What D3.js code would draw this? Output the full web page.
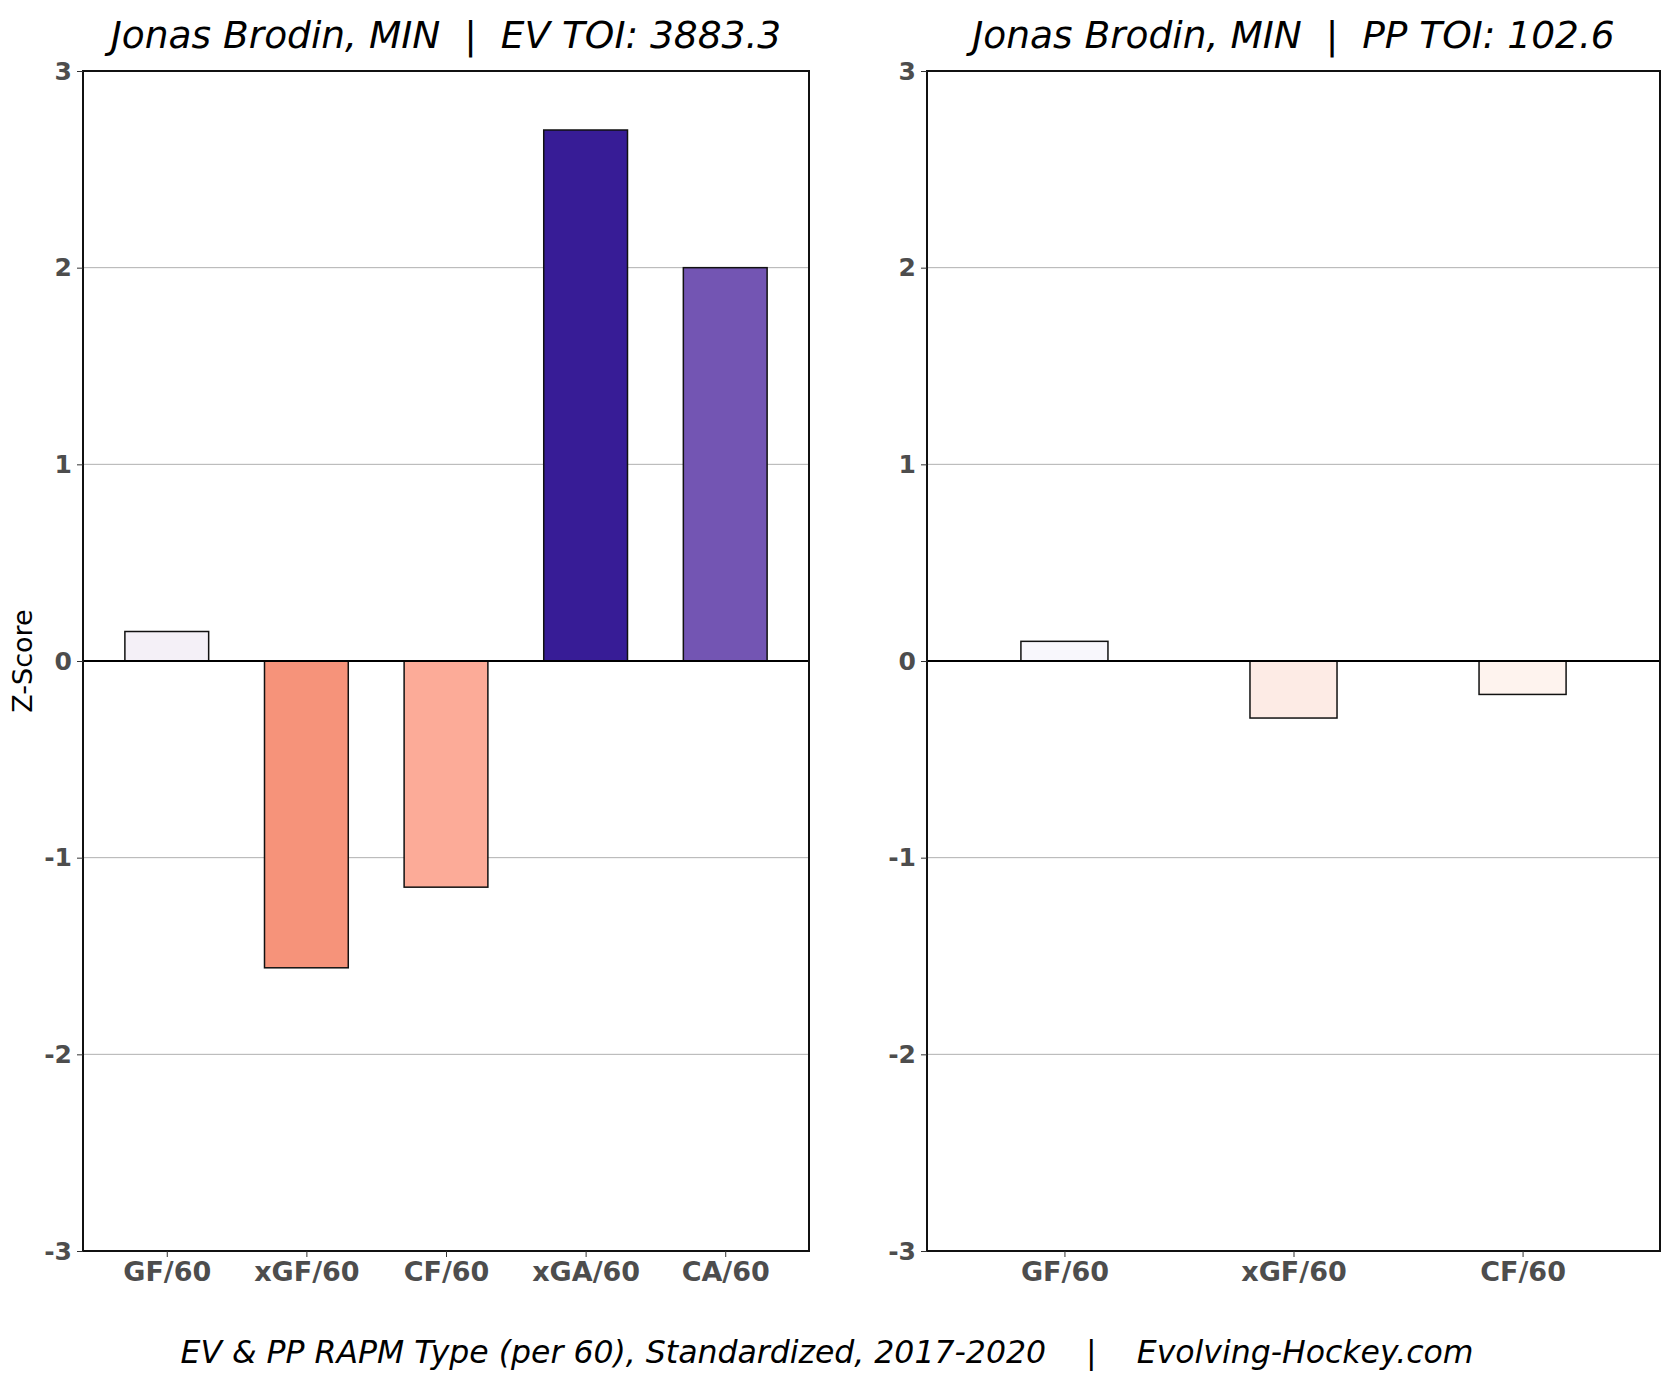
<!DOCTYPE html>
<meta charset="utf-8">
<script src="https://cdn.jsdelivr.net/npm/d3@7"></script>
<head>
	<title>RAPM z-scores - Jonas Brodin</title>
	<style>
		body { margin: 0; background: #fff; }
		svg text { font-family: "DejaVu Sans", sans-serif; }
		.tick text { fill: #4d4d4d; font-weight: bold; }
	</style>
</head>
<body>
	<div id="chart"></div>
	<script>
		// data
		var evCats = ["GF/60", "xGF/60", "CF/60", "xGA/60", "CA/60"];
		var evVals = [0.15, -1.56, -1.15, 2.70, 2.00];
		var ppCats = ["GF/60", "xGF/60", "CF/60"];
		var ppVals = [0.10, -0.29, -0.17];
		var yTicks = [-3, -2, -1, 0, 1, 2, 3];

		// bar fills (style, kept apart from the values)
		var evColors = ["#f4f0f7", "#f6937a", "#fcab98", "#371c96", "#7355b3"];
		var ppColors = ["#f8f7fc", "#fdebe5", "#fef3ee"];

		var W = 1680, H = 1374;
		var svg = d3.select("#chart").append("svg")
			.attr("width", W)
			.attr("height", H);

		// plot area top / bottom (pixels)
		var yTop = 71, yBot = 1251;

		var y = d3.scaleLinear().domain([-3, 3]).range([yBot, yTop]);

		function panel(x0, x1, cats, vals, colors, barW, title) {
			var x = d3.scaleLinear()
				.domain([-0.6, cats.length - 0.4])
				.range([x0, x1]);
			var g = svg.append("g");

			// grid lines
			g.selectAll(".grid")
				.data(yTicks.filter(function(d) { return d !== 0 && Math.abs(d) !== 3; }))
				.enter().append("line")
				.attr("x1", x0).attr("x2", x1)
				.attr("y1", function(d) { return y(d); })
				.attr("y2", function(d) { return y(d); })
				.style("stroke", "#b0b0b0")
				.style("stroke-width", 1);

			// bars
			g.selectAll(".bar")
				.data(vals)
				.enter().append("rect")
				.attr("x", function(d, i) { return x(i - barW / 2); })
				.attr("width", function() { return x(barW) - x(0); })
				.attr("y", function(d) { return y(Math.max(0, d)); })
				.attr("height", function(d) { return Math.abs(y(d) - y(0)); })
				.style("fill", function(d, i) { return colors[i]; })
				.style("stroke", "#111")
				.style("stroke-width", 1.5);

			// zero line
			g.append("line")
				.attr("x1", x0).attr("x2", x1)
				.attr("y1", y(0)).attr("y2", y(0))
				.style("stroke", "#000")
				.style("stroke-width", 2);

			// frame
			g.append("rect")
				.attr("x", x0).attr("y", yTop)
				.attr("width", x1 - x0).attr("height", yBot - yTop)
				.style("fill", "none")
				.style("stroke", "#111")
				.style("stroke-width", 2);

			// axes
			var yAxis = d3.axisLeft(y)
				.tickValues(yTicks)
				.tickFormat(function(d) { return String(d); })
				.tickSize(6)
				.tickPadding(5);
			var ya = g.append("g")
				.attr("class", "y axis")
				.attr("transform", "translate(" + x0 + ",0)")
				.call(yAxis);
			ya.select(".domain").remove();
			ya.selectAll("text").style("font-size", "25px");
			ya.selectAll("line").style("stroke", "#333");

			var xAxis = d3.axisBottom(x)
				.tickValues(d3.range(cats.length))
				.tickFormat(function(d) { return cats[d]; })
				.tickSize(6)
				.tickPadding(5);
			var xa = g.append("g")
				.attr("class", "x axis")
				.attr("transform", "translate(0," + yBot + ")")
				.call(xAxis);
			xa.select(".domain").remove();
			xa.selectAll("text").style("font-size", "27px");
			xa.selectAll("line").style("stroke", "#333");

			// title
			g.append("text")
				.attr("x", (x0 + x1) / 2)
				.attr("y", 48)
				.attr("text-anchor", "middle")
				.style("font-size", "37.5px")
				.style("font-style", "italic")
				.style("fill", "#000")
				.style("white-space", "pre")
				.text(title);
		}

		panel(83, 809, evCats, evVals, evColors, 0.6, "Jonas Brodin, MIN  |  EV TOI: 3883.3");
		panel(927, 1660, ppCats, ppVals, ppColors, 0.38, "Jonas Brodin, MIN  |  PP TOI: 102.6");

		// y label
		svg.append("text")
			.attr("transform", "translate(32," + y(0) + ") rotate(-90)")
			.attr("text-anchor", "middle")
			.style("font-size", "27px")
			.style("fill", "#000")
			.text("Z-Score");

		// footer
		svg.append("text")
			.attr("x", 827)
			.attr("y", 1363)
			.attr("text-anchor", "middle")
			.style("font-size", "31.5px")
			.style("font-style", "italic")
			.style("fill", "#000")
			.style("white-space", "pre")
			.text("EV & PP RAPM Type (per 60), Standardized, 2017-2020    |    Evolving-Hockey.com");
	</script>
</body>
